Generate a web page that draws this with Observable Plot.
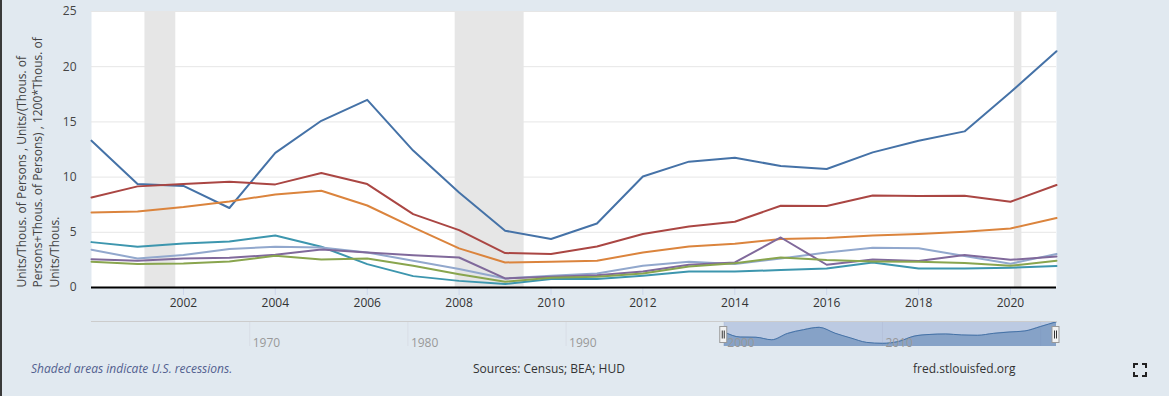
<!DOCTYPE html>
<html>
<head>
<meta charset="utf-8">
<script src="https://cdn.jsdelivr.net/npm/d3@7"></script>
<script src="https://cdn.jsdelivr.net/npm/@observablehq/plot@0.6"></script>
<style>
  html, body { margin: 0; padding: 0; }
  body { width: 1169px; height: 396px; background: #e1e9f0; position: relative; overflow: hidden; font-family: "Open Sans", sans-serif; }
  #edge { position: absolute; left: 0; top: 0; width: 2px; height: 396px; background: #3a3a3a; }
  #main, #nav { position: absolute; left: 0; }
  #main { top: 0; }
  #nav { top: 311px; }
  .foot { position: absolute; top: 360px; font-size: 12px; line-height: 18px; white-space: nowrap; }
  #note { left: 31px; color: #52608f; font-style: italic; }
  #src { left: 473px; color: #333; }
  #site { left: 913px; color: #333; }
  #fs { position: absolute; left: 1133px; top: 363px; }
  svg { overflow: visible; }
</style>
</head>
<body>
<div id="edge"></div>
<div id="main"></div>
<div id="nav"></div>
<div class="foot" id="note">Shaded areas indicate U.S. recessions.</div>
<div class="foot" id="src">Sources: Census; BEA; HUD</div>
<div class="foot" id="site">fred.stlouisfed.org</div>
<svg id="fs" width="14" height="14" viewBox="0 0 14 14">
  <path d="M1 5V1H5M9 1H13V5M13 9V13H9M5 13H1V9" fill="none" stroke="#222" stroke-width="2"/>
</svg>
<script>
// ---- data ----
const years = d3.range(2000, 2022);
const seriesNames = ["s1", "s2", "s3", "s4", "s5", "s6", "s7"];
const seriesColors = ["#4572a7", "#aa4643", "#db843d", "#3d96ae", "#92a8cd", "#80699b", "#89a54e"];
const s1 = [13.3, 9.37, 9.2, 7.2, 12.2, 15.1, 17.0, 12.4, 8.6, 5.14, 4.39, 5.8, 10.06, 11.4, 11.76, 11.0, 10.73, 12.24, 13.3, 14.14, 17.68, 21.4];
const s2 = [8.16, 9.16, 9.37, 9.58, 9.34, 10.37, 9.37, 6.65, 5.2, 3.12, 3.03, 3.72, 4.84, 5.53, 5.96, 7.4, 7.38, 8.34, 8.29, 8.31, 7.77, 9.28];
const s3 = [6.8, 6.89, 7.29, 7.8, 8.43, 8.77, 7.43, 5.45, 3.54, 2.27, 2.33, 2.42, 3.17, 3.72, 3.96, 4.39, 4.48, 4.71, 4.84, 5.05, 5.35, 6.29];
const s4 = [4.11, 3.69, 3.99, 4.17, 4.71, 3.69, 2.12, 1.03, 0.6, 0.31, 0.76, 0.76, 1.06, 1.45, 1.45, 1.58, 1.72, 2.27, 1.72, 1.72, 1.79, 1.94];
const s5 = [3.42, 2.63, 2.94, 3.48, 3.69, 3.63, 3.17, 2.43, 1.67, 0.82, 1.06, 1.27, 1.97, 2.33, 2.12, 2.63, 3.17, 3.6, 3.56, 2.85, 2.15, 3.03];
const s6 = [2.57, 2.42, 2.63, 2.69, 2.96, 3.45, 3.17, 2.93, 2.72, 0.82, 0.97, 1.12, 1.45, 2.06, 2.27, 4.53, 2.06, 2.54, 2.39, 2.94, 2.51, 2.81];
const s7 = [2.33, 2.12, 2.18, 2.36, 2.87, 2.54, 2.63, 1.97, 1.21, 0.52, 0.88, 0.97, 1.27, 1.9, 2.2, 2.72, 2.48, 2.36, 2.33, 2.21, 1.97, 2.42];
const seriesValues = [s1, s2, s3, s4, s5, s6, s7];
const recessionStarts = ["2001-03-01", "2007-12-01", "2020-02-01"];
const recessionEnds = ["2001-11-01", "2009-06-01", "2020-04-01"];
const yTicks = [0, 5, 10, 15, 20, 25];
const xTickYears = [2002, 2004, 2006, 2008, 2010, 2012, 2014, 2016, 2018, 2020];
const navDecades = [1970, 1980, 1990, 2000, 2010, 2020];
const yTitleLines = [
  "Units/Thous. of Persons , Units/(Thous. of",
  "Persons+Thous. of Persons) , 1200*Thous. of",
  "Units/Thous."
];

// ---- tables ----
const yr = y => new Date(Date.UTC(y, 0, 1));
const rows = [];
seriesNames.forEach((name, i) => years.forEach((y, j) => rows.push({series: name, date: yr(y), value: seriesValues[i][j]})));
const recessions = recessionStarts.map((s, i) => ({start: new Date(s), end: new Date(recessionEnds[i])}));
const firstSeries = years.map((y, j) => ({date: yr(y), value: s1[j]}));

const font = "'Open Sans', sans-serif";

// ---- main chart ----
const main = Plot.plot({
  width: 1169, height: 312,
  marginLeft: 91, marginRight: 113, marginTop: 11, marginBottom: 25,
  style: {background: "transparent", fontFamily: font, fontSize: "12px", overflow: "visible"},
  x: {type: "utc", domain: [yr(2000), yr(2021)]},
  y: {domain: [0, 25]},
  color: {domain: seriesNames, range: seriesColors},
  marks: [
    Plot.frame({fill: "white", stroke: null}),
    Plot.rect(recessions, {x1: "start", x2: "end", fill: "#e6e6e6"}),
    Plot.gridY(yTicks.slice(1), {stroke: "#e6e6e6", strokeOpacity: 1}),
    Plot.axisY({ticks: yTicks, tickSize: 0, tickPadding: 15, fill: "#444", label: null}),
    Plot.axisX({ticks: xTickYears.map(yr), tickFormat: d3.utcFormat("%Y"), tickSize: 8, tickPadding: 3,
                stroke: "#ccd6eb", strokeOpacity: 1, fill: "#333", label: null}),
    Plot.line(rows, {x: "date", y: "value", z: "series", stroke: "series", strokeWidth: 2}),
    Plot.ruleY([0], {stroke: "black", strokeWidth: 2}),
    Plot.text(yTitleLines, {text: d => d, frameAnchor: "bottom-left", rotate: -90, textAnchor: "start",
               dx: -66, fill: "#444", fontSize: 12,
               dy: 0})
  ]
});
// position the three title lines horizontally
d3.select(main).selectAll("text").filter(function() { return yTitleLines.includes(this.textContent); })
  .each(function() {
    const i = yTitleLines.indexOf(this.textContent);
    const t = this.getAttribute("transform");
    this.setAttribute("transform", t.replace(/translate\(([-\d.]+),([-\d.]+)\)/, (m, a, b) => `translate(${+a + i * 16.5},${b})`));
  });
document.getElementById("main").appendChild(main);

// ---- navigator ----
const navDomain = [yr(1960), yr(2021)];
const nav = Plot.plot({
  width: 1169, height: 40,
  marginLeft: 91, marginRight: 113, marginTop: 10, marginBottom: 5,
  style: {background: "transparent", fontFamily: font, fontSize: "12px", overflow: "visible"},
  x: {type: "utc", domain: navDomain, axis: null},
  y: {domain: [1.9, 21.6], axis: null},
  marks: [
    Plot.ruleX(navDecades.map(yr), {stroke: "#d8dde6"}),
    Plot.rect([{x1: yr(2000), x2: yr(2021)}], {x1: "x1", x2: "x2", fill: "#6685c2", fillOpacity: 0.3}),
    Plot.areaY(firstSeries, {x: "date", y1: 1.9, y2: "value", fill: "#4572a7", fillOpacity: 0.45, curve: "monotone-x"}),
    Plot.lineY(firstSeries, {x: "date", y: "value", stroke: "#4572a7", strokeWidth: 1, curve: "monotone-x"}),
    Plot.frame({anchor: "top", stroke: "#cccccc"}),
    Plot.text(navDecades.slice(0, 5).map(yr), {x: d => d, text: d => d3.utcFormat("%Y")(d), frameAnchor: "top",
               dy: 17, dx: 3, textAnchor: "start", fill: "#999", fontSize: 12})
  ]
});
const xs = nav.scale("x");
const svgNav = d3.select(nav);
[yr(2000), yr(2021)].forEach(d => {
  const cx = xs.apply(d);
  const g = svgNav.append("g");
  g.append("rect").attr("x", cx - 4).attr("y", 15.5).attr("width", 7).attr("height", 16)
    .attr("fill", "#f2f2f2").attr("stroke", "#999").attr("stroke-width", 1);
  g.append("line").attr("x1", cx - 1.5).attr("x2", cx - 1.5).attr("y1", 19.5).attr("y2", 27.5).attr("stroke", "#333");
  g.append("line").attr("x1", cx + 0.5).attr("x2", cx + 0.5).attr("y1", 19.5).attr("y2", 27.5).attr("stroke", "#333");
});
document.getElementById("nav").appendChild(nav);
</script>
</body>
</html>
